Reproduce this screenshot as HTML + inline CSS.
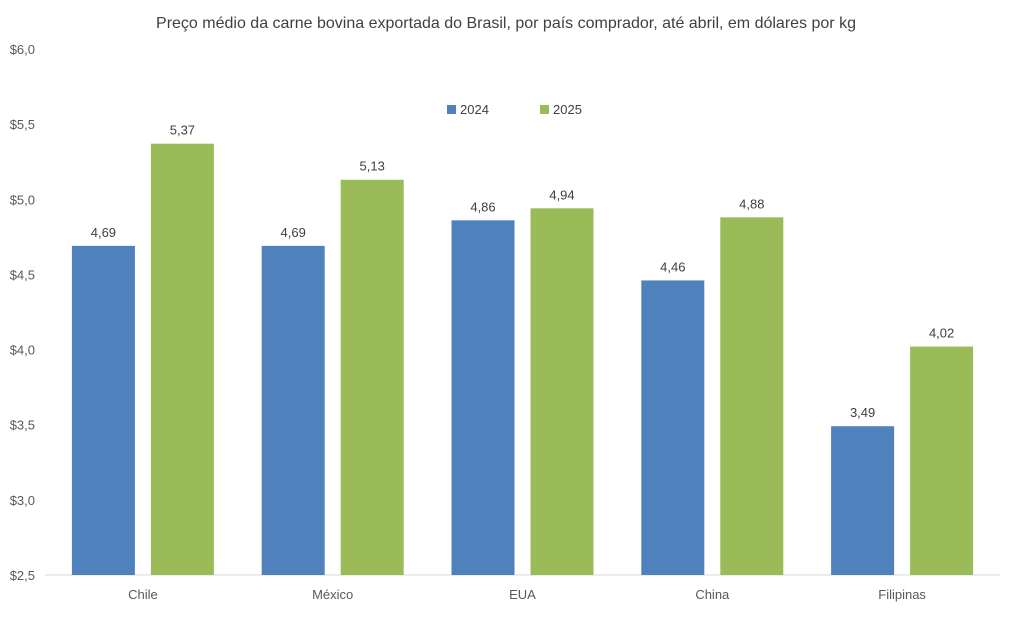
<!DOCTYPE html>
<html><head><meta charset="utf-8"><style>
body{margin:0;background:#fff;}
svg{display:block;font-family:"Liberation Sans",sans-serif;}
</style></head><body>
<svg id="chart" width="1012" height="629">
<text x="506" y="28" text-anchor="middle" font-size="16" fill="#404040">Preço médio da carne bovina exportada do Brasil, por país comprador, até abril, em dólares por kg</text>
<g>
<rect x="447" y="105" width="9" height="9" fill="#4f81bd"/>
<text x="460" y="114" font-size="13" fill="#404040">2024</text>
<rect x="540" y="105" width="9" height="9" fill="#9bbb59"/>
<text x="553" y="114" font-size="13" fill="#404040">2025</text>
</g>
<g id="plot"></g>
</svg>
<script>
const categories=["Chile","México","EUA","China","Filipinas"];
const values2024=[4.69,4.69,4.86,4.46,3.49];
const values2025=[5.37,5.13,4.94,4.88,4.02];
const yTicks=[2.5,3.0,3.5,4.0,4.5,5.0,5.5,6.0];
const yMin=2.5,yMax=6.0,plotTop=49,plotBottom=575,plotLeft=48,plotRight=997;
const y=v=>plotBottom-(v-yMin)/(yMax-yMin)*(plotBottom-plotTop);
const bandW=(plotRight-plotLeft)/categories.length;
const cx=i=>plotLeft+bandW*(i+0.5);
const g=document.getElementById('plot');
const NS="http://www.w3.org/2000/svg";
function mk(t,a){const e=document.createElementNS(NS,t);for(const k in a)e.setAttribute(k,a[k]);g.appendChild(e);return e;}
const fmt=v=>v.toFixed(2).replace('.',',');
yTicks.forEach(t=>{const e=mk('text',{x:35,y:y(t)+5,'text-anchor':'end','font-size':13,fill:'#595959'});e.textContent='$'+t.toFixed(1).replace('.',',');

});
const ax=mk('line',{x1:45,x2:1000,y1:plotBottom,y2:plotBottom,stroke:'#d9d9d9','stroke-width':1});


categories.forEach((c,i)=>{
 const series=[[values2024[i],'#4f81bd',-71,'2024'],[values2025[i],'#9bbb59',8,'2025']];
 series.forEach(([v,col,off,s])=>{
  const r=mk('rect',{x:cx(i)+off,y:y(v),width:63,height:plotBottom-y(v),fill:col});
  
  
  const l=mk('text',{x:cx(i)+off+31.5,y:y(v)-9,'text-anchor':'middle','font-size':13,fill:'#404040'});
  l.textContent=fmt(v);
  
  
 });
 const t=mk('text',{x:cx(i),y:599,'text-anchor':'middle','font-size':13,fill:'#595959'});
 t.textContent=c;
 
 
});
</script>
</body></html>
